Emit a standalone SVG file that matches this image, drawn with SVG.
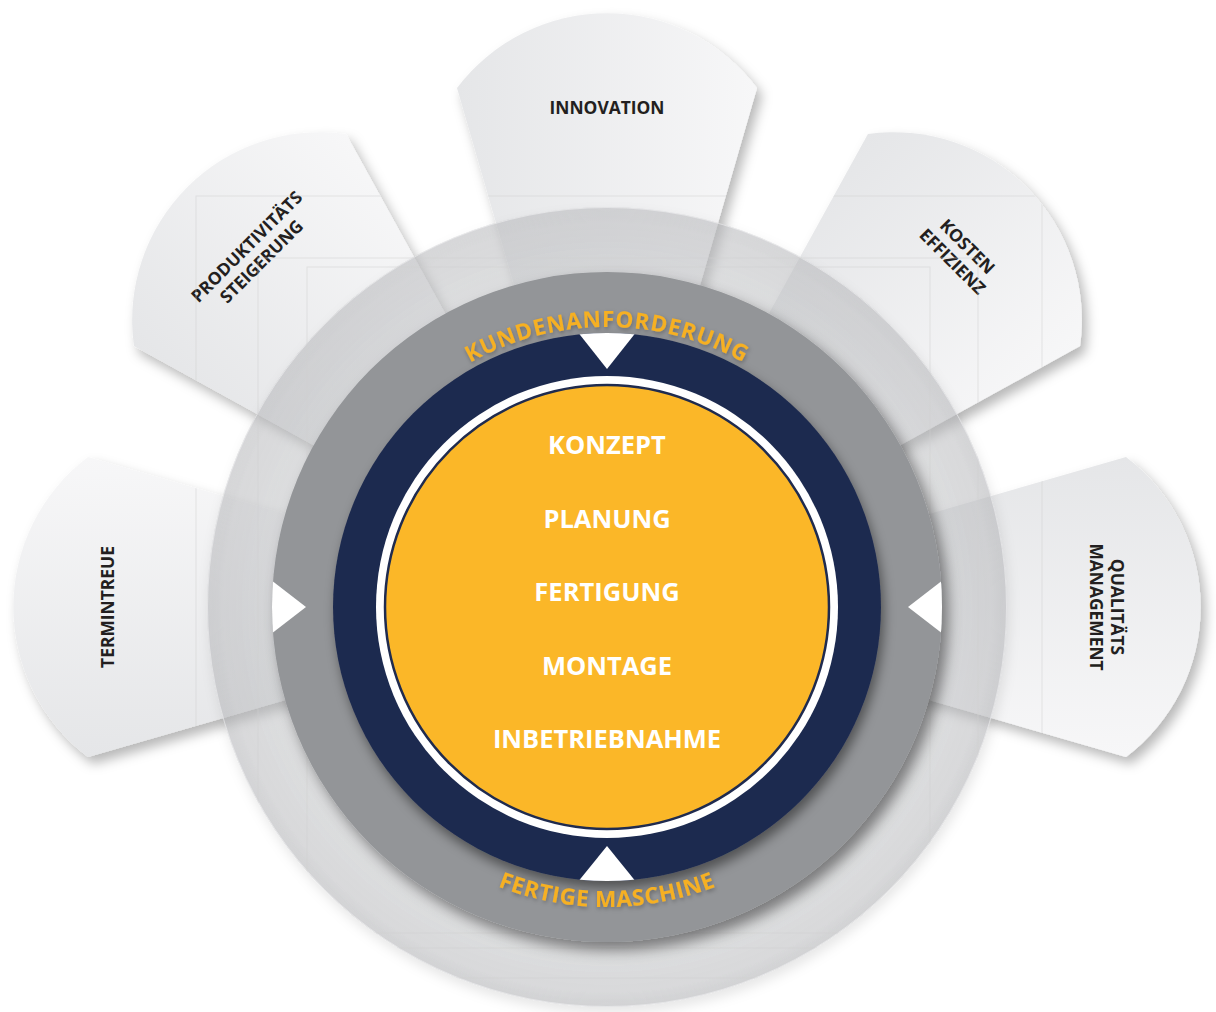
<svg xmlns="http://www.w3.org/2000/svg" xmlns:xlink="http://www.w3.org/1999/xlink" width="1216" height="1012" viewBox="0 0 1216 1012">
<style>
.petal{fill:url(#petalGrad);}
.plabel{font-family:"Open Sans","Liberation Sans",sans-serif;font-weight:700;font-size:17.4px;fill:#231f20;text-anchor:middle;}
.core{font-family:"Open Sans","Liberation Sans",sans-serif;font-weight:700;font-size:25.5px;fill:#ffffff;text-anchor:middle;}
.arc{font-family:"Open Sans","Liberation Sans",sans-serif;font-weight:700;fill:#f6b024;}
.faint{fill:none;stroke:#cfd0d2;stroke-width:1;opacity:0.5;}
.tri{fill:#ffffff;}
</style>
<defs>
<linearGradient id="petalGrad" x1="0" y1="0" x2="1" y2="0">
<stop offset="0" stop-color="#e5e6e8"/>
<stop offset="1" stop-color="#f7f7f8"/>
</linearGradient>
<radialGradient id="outerGrad" cx="607" cy="607" r="400" gradientUnits="userSpaceOnUse">
<stop offset="0.8" stop-color="#c4c6c9" stop-opacity="0.46"/>
<stop offset="0.96" stop-color="#c0c1c4" stop-opacity="0.5"/>
<stop offset="1" stop-color="#b8b9bc" stop-opacity="0.56"/>
</radialGradient>
<filter id="petalShadow" x="-20%" y="-20%" width="140%" height="140%">
<feDropShadow dx="5" dy="7" stdDeviation="6" flood-color="#000" flood-opacity="0.28"/>
</filter>
<filter id="outerShadow" x="-10%" y="-10%" width="120%" height="120%">
<feDropShadow dx="2" dy="6" stdDeviation="6" flood-color="#000" flood-opacity="0.18"/>
</filter>
<filter id="ringShadow" x="-15%" y="-15%" width="130%" height="130%">
<feDropShadow dx="6" dy="8" stdDeviation="7" flood-color="#000" flood-opacity="0.45"/>
</filter>
<filter id="navyShadow" x="-15%" y="-15%" width="130%" height="130%">
<feDropShadow dx="3" dy="7" stdDeviation="6" flood-color="#000" flood-opacity="0.45"/>
</filter>
<filter id="textShadow" x="-10%" y="-30%" width="120%" height="160%">
<feDropShadow dx="1" dy="2" stdDeviation="2" flood-color="#000" flood-opacity="0.3"/>
</filter>
<path id="petalShape" d="M607 607 L457 88 A188 188 0 0 1 757 88 Z"/>
<clipPath id="faintClip">
<use xlink:href="#petalShape"/>
<use xlink:href="#petalShape" transform="rotate(-45 607 607)"/>
<use xlink:href="#petalShape" transform="rotate(45 607 607)"/>
<use xlink:href="#petalShape" transform="rotate(-90 607 607)"/>
<use xlink:href="#petalShape" transform="rotate(90 607 607)"/>
<circle cx="607" cy="607" r="400"/>
</clipPath>
<clipPath id="grayClip"><circle cx="607" cy="607" r="335"/></clipPath>
<clipPath id="navyClip"><circle cx="607" cy="607" r="274"/></clipPath>
<path id="topArc" d="M327 607 A280 280 0 0 1 887 607"/>
<path id="bottomArc" d="M307 607 A300 300 0 0 0 907 607"/>
</defs>

<rect width="1216" height="1012" fill="#ffffff"/>

<!-- petals (nodes) -->
<g id="node-innovation">
<g filter="url(#petalShadow)"><use xlink:href="#petalShape" class="petal"/></g>
<text class="plabel" x="607" y="114">INNOVATION</text>
</g>
<g id="node-produktivitaet">
<g filter="url(#petalShadow)"><use xlink:href="#petalShape" class="petal" transform="rotate(-45 607 607)"/></g>
<text class="plabel" transform="rotate(-45 607 607)"><tspan x="607" y="103.5">PRODUKTIVITÄTS</tspan><tspan x="607" y="124.5">STEIGERUNG</tspan></text>
</g>
<g id="node-kosten">
<g filter="url(#petalShadow)"><use xlink:href="#petalShape" class="petal" transform="rotate(45 607 607)"/></g>
<text class="plabel" transform="rotate(45 607 607)"><tspan x="607" y="103.5">KOSTEN</tspan><tspan x="607" y="124.5">EFFIZIENZ</tspan></text>
</g>
<g id="node-termintreue">
<g filter="url(#petalShadow)"><use xlink:href="#petalShape" class="petal" transform="rotate(-90 607 607)"/></g>
<text class="plabel" x="607" y="114" transform="rotate(-90 607 607)">TERMINTREUE</text>
</g>
<g id="node-qualitaet">
<g filter="url(#petalShadow)"><use xlink:href="#petalShape" class="petal" transform="rotate(90 607 607)"/></g>
<text class="plabel" transform="rotate(90 607 607)"><tspan x="607" y="103.5">QUALITÄTS</tspan><tspan x="607" y="124.5">MANAGEMENT</tspan></text>
</g>

<!-- outer translucent disc -->
<g id="outer-ring">
<circle cx="607" cy="607" r="400" fill="url(#outerGrad)" filter="url(#outerShadow)"/>
<circle cx="607" cy="607" r="399.5" fill="none" stroke="#f2f2f3" stroke-width="1" opacity="0.6"/>
</g>

<!-- faint guide lines -->
<g id="guides" clip-path="url(#faintClip)">
<rect class="faint" x="196" y="196" width="846" height="782"/>
<rect class="faint" x="258" y="258" width="720" height="690"/>
<rect class="faint" x="307" y="267" width="623" height="666"/>
</g>

<!-- gray ring -->
<g id="gray-ring">
<circle cx="607" cy="607" r="335" fill="#939598" filter="url(#ringShadow)"/>
</g>

<!-- navy ring -->
<g id="navy-ring">
<circle cx="607" cy="607" r="274" fill="#1f2b4f" filter="url(#navyShadow)"/>
<circle cx="607" cy="607" r="231" fill="#ffffff"/>
<circle cx="607" cy="607" r="222" fill="#fbb728" stroke="#1f2b4f" stroke-width="2.5"/>
</g>

<!-- arrows / connectors -->
<g id="connectors">
<g clip-path="url(#grayClip)">
<polygon class="tri" points="262,573 306,607 262,641"/>
<polygon class="tri" points="952,573 908,607 952,641"/>
</g>
<g clip-path="url(#navyClip)">
<polygon class="tri" points="573,326 641,326 607,369"/>
<polygon class="tri" points="573,888 641,888 607,846"/>
</g>
</g>

<!-- arc labels -->
<g id="label-kundenanforderung" filter="url(#textShadow)">
<text class="arc" font-size="22.5" letter-spacing="0.8"><textPath xlink:href="#topArc" startOffset="50%" text-anchor="middle">KUNDENANFORDERUNG</textPath></text>
</g>
<g id="label-fertige-maschine" filter="url(#textShadow)">
<text class="arc" font-size="22.5" letter-spacing="0.6"><textPath xlink:href="#bottomArc" startOffset="50%" text-anchor="middle">FERTIGE MASCHINE</textPath></text>
</g>

<!-- core steps -->
<g id="node-core">
<text class="core" x="607" y="454">KONZEPT</text>
<text class="core" x="607" y="527.5">PLANUNG</text>
<text class="core" x="607" y="601">FERTIGUNG</text>
<text class="core" x="607" y="674.5">MONTAGE</text>
<text class="core" x="607" y="748">INBETRIEBNAHME</text>
</g>
</svg>
